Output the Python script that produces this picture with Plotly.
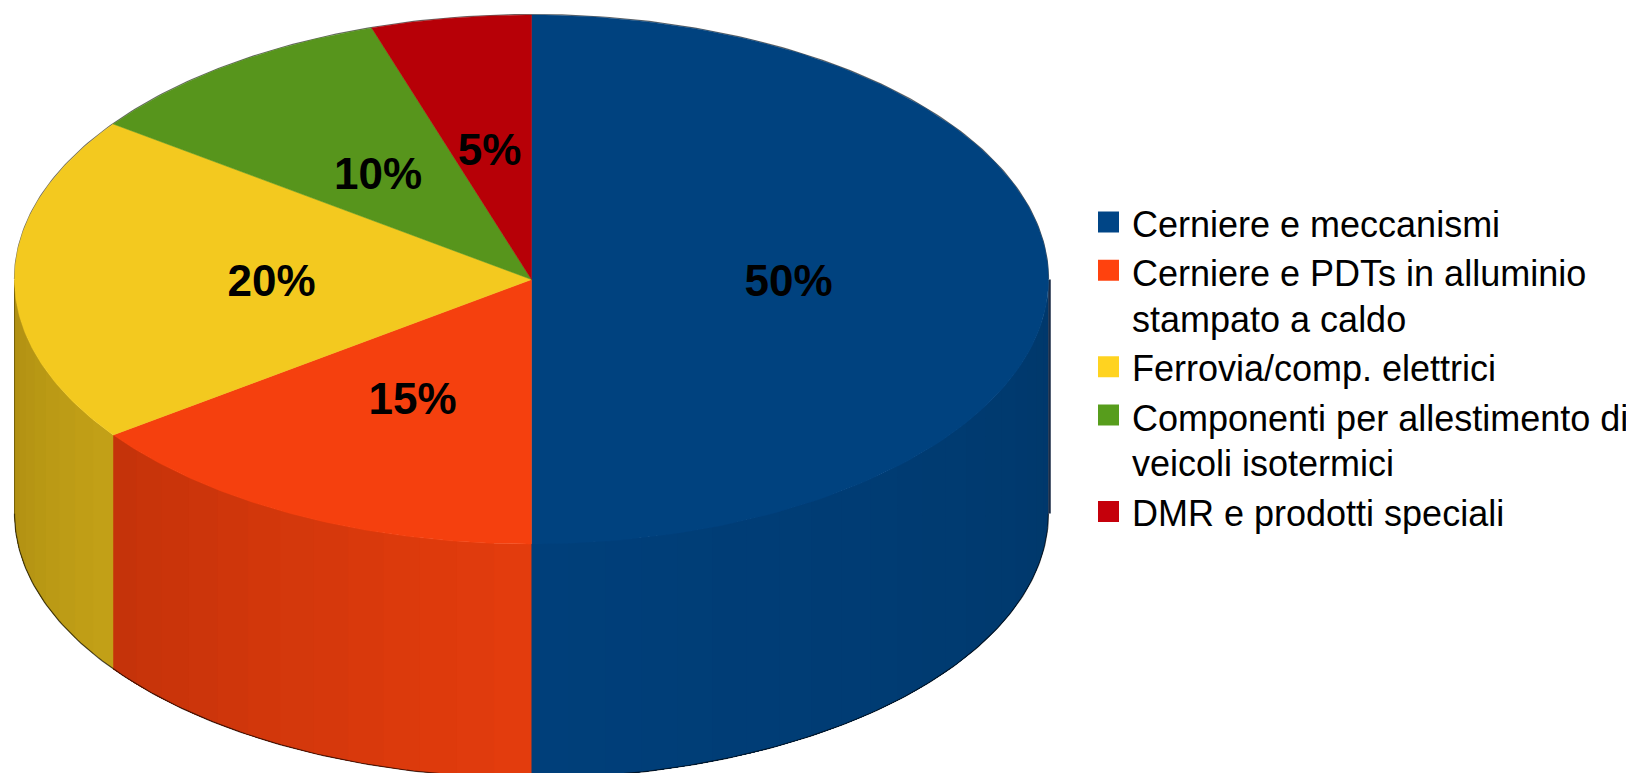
import numpy as np
import plotly.graph_objects as go

categories = ["Cerniere e meccanismi", "Cerniere e PDTs in alluminio<br>stampato a caldo",
              "Ferrovia/comp. elettrici", "Componenti per allestimento di<br>veicoli isotermici",
              "DMR e prodotti speciali"]
values = [50, 15, 20, 10, 5]
labels = ["50%", "15%", "20%", "10%", "5%"]
legend_colors = ["#004586", "#FF420E", "#FFD320", "#579D1C", "#C5000B"]
top_colors = ["#00427F", "#F5400E", "#F3C91F", "#57951C", "#B70007"]
side_start = [(0, 56, 107), (227, 60, 13), (194, 160, 23), (87, 149, 28), (183, 0, 7)]
side_end = [(0, 63, 122), (197, 51, 10), (175, 143, 18), (87, 149, 28), (183, 0, 7)]

W, H = 1634, 773
PAGE_MARGIN = 8
CX, CY, RX, RY, DEPTH = 531.5, 279.5, 517, 264.5, 234


def ell(theta_deg, dy=0.0, r=1.0):
    t = np.radians(theta_deg)
    return CX + r * RX * np.sin(t), CY + dy - r * RY * np.cos(t)


fig = go.Figure()
edges = np.concatenate([[0], np.cumsum(values)]) * 360 / sum(values)

# front wall: each band runs to the end of its slice and the next band paints over it
for i in range(len(values)):
    a0, a1 = max(edges[i], 90), min(edges[i + 1], 270)
    if a1 <= a0:
        continue
    n = max(2, int((a1 - a0) / 4))
    steps = np.linspace(a0, a1, n + 1)
    for j in range(n):
        f = j / max(n - 1, 1)
        c = [round(s + (e - s) * f) for s, e in zip(side_start[i], side_end[i])]
        col = f"rgb({c[0]},{c[1]},{c[2]})"
        th = np.linspace(steps[j], a1, 40)
        x1, y1 = ell(th)
        x2, y2 = ell(th[::-1], DEPTH)
        fig.add_trace(go.Scatter(x=np.r_[x1, x2], y=np.r_[y1, y2], mode="lines", fill="toself",
                                 fillcolor=col, line=dict(width=0), hoverinfo="skip"))

# dark rim on the outer silhouette
th = np.linspace(90, 270, 240)
x, y = ell(th, DEPTH)
fig.add_trace(go.Scatter(x=x, y=y, mode="lines", line=dict(color="rgba(0,0,0,0.65)", width=1.2), hoverinfo="skip"))
xr, yr = ell(np.array([90.0, 90.0]))
fig.add_trace(go.Scatter(x=xr + 1, y=[yr[0], yr[0] + DEPTH], mode="lines",
                         line=dict(color="rgba(0,20,50,0.9)", width=2.5), hoverinfo="skip"))
xl, yl = ell(np.array([270.0, 270.0]))
fig.add_trace(go.Scatter(x=xl, y=[yl[0], yl[0] + DEPTH], mode="lines",
                         line=dict(color="rgba(60,50,0,0.5)", width=1), hoverinfo="skip"))
th = np.linspace(-90, 90, 240)
x, y = ell(th)
fig.add_trace(go.Scatter(x=x, y=y - 0.5, mode="lines", line=dict(color="rgba(0,0,0,0.6)", width=1.2), hoverinfo="skip"))

# top face
for i in range(len(values)):
    th = np.linspace(edges[i], edges[i + 1], 120)
    x, y = ell(th)
    fig.add_trace(go.Scatter(x=np.r_[CX, x, CX], y=np.r_[CY, y, CY], mode="lines", fill="toself",
                             fillcolor=top_colors[i], line=dict(color=top_colors[i], width=0.5),
                             hoverinfo="skip"))

# percentage labels, halfway out along each slice's middle angle
mids = (edges[:-1] + edges[1:]) / 2
lx, ly = ell(mids, r=0.5)
fig.add_trace(go.Scatter(x=lx - 1.5, y=ly + 5.5, mode="text", text=labels, textposition="middle center",
                         textfont=dict(family="Liberation Sans", size=44, color="black", weight="bold"),
                         hoverinfo="skip"))

# legend
KEY_Y0, KEY_ROW, KEY_X, TEXT_X = 222, 48.25, 1108.5, 1132
TEXT_Y0, ITEM_GAP, LINE_GAP = 228, 49.3, 45.7
row, ty = 0, TEXT_Y0
tx_lines, ty_lines = [], []
for name, col in zip(categories, legend_colors):
    fig.add_trace(go.Scatter(x=[KEY_X], y=[KEY_Y0 + row * KEY_ROW], mode="markers",
                             marker=dict(symbol="square", size=21, color=col, line=dict(width=0)),
                             hoverinfo="skip"))
    lines = name.split("<br>")
    for k, line in enumerate(lines):
        tx_lines.append(line)
        ty_lines.append(ty)
        ty += LINE_GAP if k < len(lines) - 1 else ITEM_GAP
        row += 1
fig.add_trace(go.Scatter(x=[TEXT_X] * len(tx_lines), y=ty_lines, mode="text", text=tx_lines,
                         textposition="middle right", cliponaxis=False,
                         textfont=dict(family="Liberation Sans", size=36, color="black"),
                         hoverinfo="skip"))

fig.update_layout(width=W - PAGE_MARGIN, height=H - PAGE_MARGIN, margin=dict(l=0, r=0, t=0, b=0), showlegend=False,
                  paper_bgcolor="white", plot_bgcolor="white",
                  xaxis=dict(range=[PAGE_MARGIN, W], visible=False, fixedrange=True),
                  yaxis=dict(range=[H, PAGE_MARGIN], visible=False, fixedrange=True))
fig.write_html("out.html", config={"displayModeBar": False})
